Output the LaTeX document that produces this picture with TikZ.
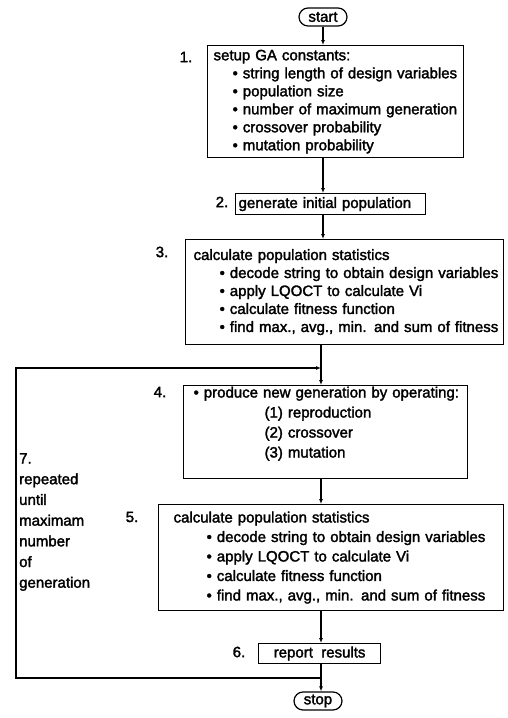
\documentclass[tikz,border=0pt]{standalone}
\usepackage{fontspec}
\setmainfont{Liberation Sans}[FakeBold=2]
\usetikzlibrary{arrows.meta,positioning,shapes}
\newcommand{\boxfont}{\fontsize{15}{18}\selectfont}
\newcommand{\itm}[2]{\hspace*{#1}\mbox{\textbullet\ #2}}

\begin{document}
\begin{tikzpicture}[x=1pt,y=-1pt,
  stepbox/.style={draw,line width=1.2pt,anchor=north west,align=left,inner ysep=0pt,font=\boxfont},
  term/.style={draw,line width=1.2pt,rounded corners=9pt,minimum width=48pt,minimum height=18pt,inner sep=1pt,font=\boxfont},
  stepno/.style={font=\boxfont},
  flow/.style={line width=1.2pt,-{Latex[length=5pt,width=4pt]}}]
\useasboundingbox (0,0) rectangle (507,718);
\node[term] (start) at (323,17) {start};
\node[stepbox,text width=244pt,inner xsep=6pt,minimum height=112pt] (b1) at (207,45) {setup GA constants:\\
\itm{19pt}{string length of design variables}\\
\itm{19pt}{population size}\\
\itm{19pt}{number of maximum generation}\\
\itm{19pt}{crossover probability}\\
\itm{19pt}{mutation probability}};
\node[stepbox,text width=184pt,inner xsep=3pt,minimum height=21pt] (b2) at (235,193) {generate initial population};
\node[stepbox,text width=302pt,inner xsep=8pt,minimum height=105pt] (b3) at (185,239) {calculate population statistics\\
\itm{26pt}{decode string to obtain design variables}\\
\itm{26pt}{apply LQOCT to calculate Vi}\\
\itm{26pt}{calculate fitness function}\\
\itm{26pt}{find max., avg., min. and sum of fitness}};
\node[stepbox,text width=264pt,inner xsep=10pt,minimum height=93pt,font=\fontsize{15}{20}\selectfont] (b4) at (183,385) {\itm{0pt}{produce new generation by operating:}\\
\hspace*{71pt}(1) reproduction\\
\hspace*{71pt}(2) crossover\\
\hspace*{71pt}(3) mutation\\
\mbox{}};
\node[stepbox,text width=315pt,inner xsep=15pt,minimum height=106pt,font=\fontsize{15}{19.5}\selectfont] (b5) at (158,504) {calculate population statistics\\
\itm{33pt}{decode string to obtain design variables}\\
\itm{33pt}{apply LQOCT to calculate Vi}\\
\itm{33pt}{calculate fitness function}\\
\itm{33pt}{find max., avg., min. and sum of fitness}};
\node[stepbox,minimum width=122pt,minimum height=20pt,inner xsep=2pt,align=center] (b6) at (258,643) {report\ \ results};
\node[term] (stop) at (318,701) {stop};
\node[stepno] (s1) at (186,57) {1.};
\node[stepno] (s2) at (222,202) {2.};
\node[stepno] (s3) at (162,252) {3.};
\node[stepno] (s4) at (160,392) {4.};
\node[stepno] (s5) at (132,517) {5.};
\node[stepno] (s6) at (239,652) {6.};
\node[anchor=west,align=left,inner sep=0pt,font=\fontsize{15}{20.7}\selectfont] (s7) at (19,522) {7.\\repeated\\until\\maximam\\number\\of\\generation};
\coordinate (jt) at (321,368);
\coordinate (jb) at (321,678);
\coordinate (lt) at (16,368);
\coordinate (ll) at (16,678);
\draw[flow] (start) -- (start |- b1.north);
\draw[flow] (b1.south -| start) -- (start |- b2.north);
\draw[flow] (b2.south -| start) -- (start |- b3.north);
\draw[line width=1.2pt] (b3.south -| jt) -- (jt);
\draw[flow] (jt) -- (jt |- b4.north);
\draw[flow] (b4.south -| jt) -- (jt |- b5.north);
\draw[flow] (b5.south -| jt) -- (jt |- b6.north);
\draw[flow] (b6.south -| jt) -- (jt |- stop.north);
\draw[flow] (jb) -- (ll) -- (lt) -- (jt);
\end{tikzpicture}
\end{document}
